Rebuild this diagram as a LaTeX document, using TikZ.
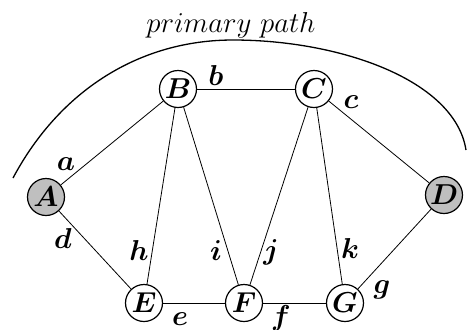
\documentclass[tikz,border=0pt]{standalone}
\usepackage{bm}
\begin{document}
\begin{tikzpicture}[x=0.5pt,y=-0.5pt,
  vertex/.style={circle,draw,line width=0.6pt,minimum size=18.5pt,inner sep=0pt,fill=white,font=\fontsize{14.5}{16}\selectfont},
  shaded/.style={vertex,fill=black!25},
  edge/.style={line width=0.4pt},
  elabel/.style={anchor=base,inner sep=0pt,font=\fontsize{14.5}{16}\selectfont}]
\useasboundingbox (0,0) rectangle (468,329);
\clip (0,0) rectangle (468,329);
% nodes
\node[shaded] (A) at (46,197) {$\bm{A}$};
\node[vertex] (B) at (178,89) {$\bm{B}$};
\node[vertex] (C) at (314,89) {$\bm{C}$};
\node[shaded] (D) at (444,195) {$\bm{D}$};
\node[vertex] (E) at (144,303) {$\bm{E}$};
\node[vertex] (F) at (244,303) {$\bm{F}$};
\node[vertex] (G) at (345,303) {$\bm{G}$};
% edges
\draw[edge] (A) -- (B);
\draw[edge] (B) -- (C);
\draw[edge] (C) -- (D);
\draw[edge] (A) -- (E);
\draw[edge] (E) -- (F);
\draw[edge] (F) -- (G);
\draw[edge] (G) -- (D);
\draw[edge] (B) -- (E);
\draw[edge] (B) -- (F);
\draw[edge] (C) -- (F);
\draw[edge] (C) -- (G);
% edge labels
\node[elabel] (la) at (66,170) {$\bm{a}$};
\node[elabel] (lb) at (216,85) {$\bm{b}$};
\node[elabel] (lc) at (351,108) {$\bm{c}$};
\node[elabel] (ld) at (63,248) {$\bm{d}$};
\node[elabel] (lh) at (139,260) {$\bm{h}$};
\node[elabel] (li) at (216,260) {$\bm{i}$};
\node[elabel] (lj) at (271,259) {$\bm{j}$};
\node[elabel] (lk) at (350,258) {$\bm{k}$};
\node[elabel] (lg) at (382,293) {$\bm{g}$};
\node[elabel] (le) at (180,325.5) {$\bm{e}$};
\node[elabel] (lf) at (281,325) {$\bm{f}$};
% primary path
\node[anchor=base,inner sep=0pt,font=\fontsize{13.5}{16}\selectfont] (pp) at (231,32) {$primary\ path$};
\coordinate (p0) at (13,178);
\coordinate (p1) at (233,40);
\coordinate (p2) at (466,150);
\draw[line width=0.65pt] (p0) .. controls (60,90) and (140,40) .. (p1)
  .. controls (340,40) and (455,80) .. (p2);
\end{tikzpicture}
\end{document}
